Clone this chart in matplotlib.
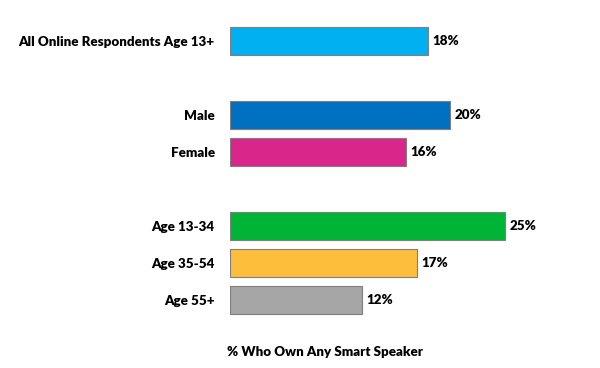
import matplotlib
matplotlib.use("Agg")
import matplotlib.pyplot as plt

categories = ["All Online Respondents Age 13+", "Male", "Female", "Age 13-34", "Age 35-54", "Age 55+"]
values = [18, 20, 16, 25, 17, 12]
slots = [0, 2, 3, 5, 6, 7]
colors = ["#00B0F0", "#0070C0", "#D9268A", "#00B536", "#FDBE3C", "#A6A6A6"]
xlabel = "% Who Own Any Smart Speaker"

plt.rcParams['font.family'] = ['Lato', 'DejaVu Sans']

fig = plt.figure(figsize=(6, 3.68), dpi=100)
ax = fig.add_axes([230/600, 1-318.5/368, 330/600, (318.5-22.5)/368])
ax.barh(slots, values, height=0.76, color=colors, edgecolor="#7F7F7F", linewidth=0.8)
ax.set_xlim(0, 30)
ax.set_ylim(7.5, -0.5)
ax.set_yticks(slots)
ax.set_yticklabels(categories, fontsize=9.6, fontweight='heavy')
ax.tick_params(axis='y', length=0, pad=11)
ax.set_xticks([])
for s in ax.spines.values():
    s.set_visible(False)
for s, v in zip(slots, values):
    ax.text(v + 0.4, s, f"{v}%", va='center', ha='left', fontsize=9.6, fontweight='heavy')
fig.text(325/600, 1-352/368, xlabel, ha='center', va='center', fontsize=9.6, fontweight='heavy')
fig.savefig("out.png", dpi=100, facecolor="white")
